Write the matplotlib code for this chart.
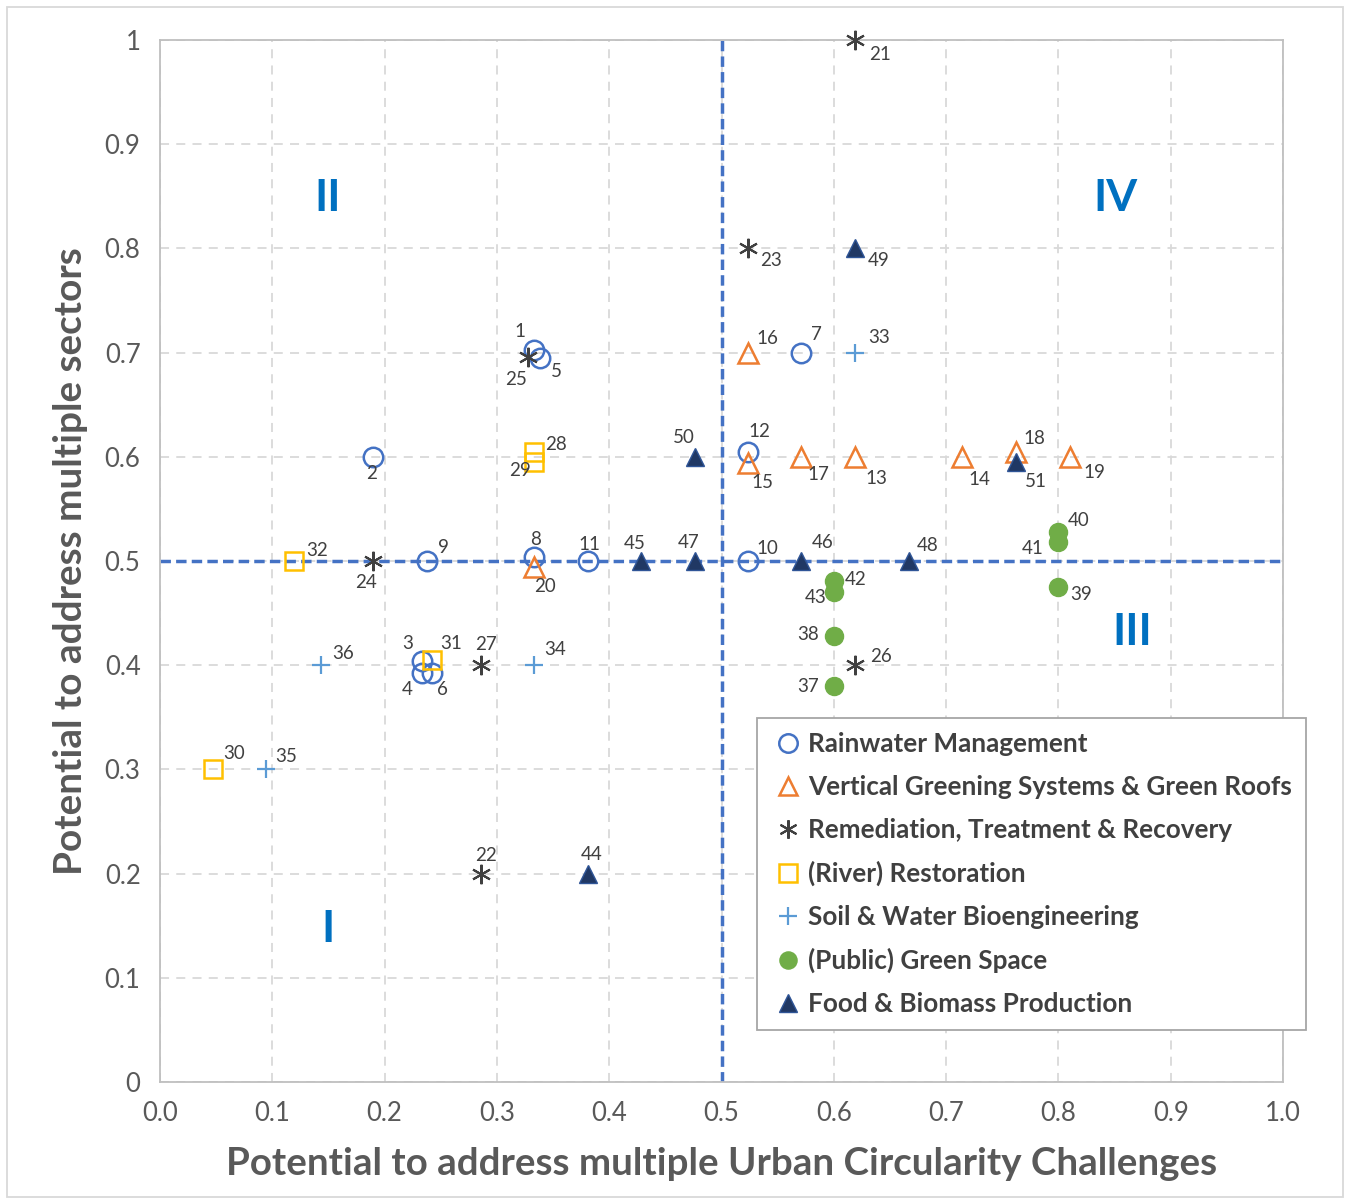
import matplotlib.pyplot as plt
from matplotlib.patches import Rectangle

plt.rcParams['font.family'] = ['Lato', 'DejaVu Sans']

# Data: id, x (urban circularity challenges), y (sectors)
rain_ids = [1, 2, 3, 4, 5, 6, 7, 8, 9, 10, 11, 12]
rain_x = [0.333, 0.190, 0.233, 0.233, 0.338, 0.242, 0.571, 0.333, 0.238, 0.524, 0.381, 0.524]
rain_y = [0.703, 0.600, 0.404, 0.393, 0.695, 0.393, 0.700, 0.504, 0.500, 0.500, 0.500, 0.605]

green_roof_ids = [13, 14, 15, 16, 17, 18, 19, 20]
green_roof_x = [0.619, 0.714, 0.524, 0.524, 0.571, 0.762, 0.810, 0.333]
green_roof_y = [0.600, 0.600, 0.594, 0.700, 0.600, 0.605, 0.600, 0.494]

remed_ids = [21, 22, 23, 24, 25, 26, 27]
remed_x = [0.619, 0.286, 0.524, 0.190, 0.328, 0.619, 0.286]
remed_y = [1.000, 0.200, 0.800, 0.500, 0.696, 0.400, 0.400]

river_ids = [28, 29, 30, 31, 32]
river_x = [0.333, 0.333, 0.047, 0.242, 0.119]
river_y = [0.605, 0.595, 0.300, 0.405, 0.500]

soil_ids = [33, 34, 35, 36]
soil_x = [0.619, 0.333, 0.094, 0.143]
soil_y = [0.700, 0.400, 0.300, 0.400]

public_ids = [37, 38, 39, 40, 41, 42, 43]
public_x = [0.600, 0.600, 0.800, 0.800, 0.800, 0.600, 0.600]
public_y = [0.380, 0.428, 0.475, 0.528, 0.518, 0.481, 0.470]

food_ids = [44, 45, 46, 47, 48, 49, 50, 51]
food_x = [0.381, 0.428, 0.571, 0.476, 0.667, 0.619, 0.476, 0.762]
food_y = [0.200, 0.500, 0.500, 0.500, 0.500, 0.800, 0.600, 0.595]

# label offsets in pixels (dx right, dy down)
label_off = {
    1: (-14, -18), 2: (-2, 17), 3: (-14, -18), 4: (-14, 17), 5: (17, 14), 6: (11, 17),
    7: (15, -18), 8: (2, -17), 9: (16, -14), 10: (19, -13), 11: (2, -17), 12: (11, -20),
    13: (21, 22), 14: (18, 23), 15: (14, 19), 16: (19, -14), 17: (17, 18), 18: (19, -13),
    19: (25, 16), 20: (11, 19), 21: (25, 14), 22: (5, -18), 23: (23, 12), 24: (-7, 21),
    25: (-12, 23), 26: (26, -9), 27: (5, -21), 28: (22, -7), 29: (-14, 8), 30: (21, -16),
    31: (19, -17), 32: (23, -11), 33: (24, -15), 34: (21, -16), 35: (21, -13), 36: (22, -12),
    37: (-26, 0), 38: (-26, -2), 39: (23, 7), 40: (20, -11), 41: (-26, 6), 42: (22, -1),
    43: (-18, 5), 44: (4, -19), 45: (-6, -18), 46: (21, -19), 47: (-6, -19), 48: (19, -16),
    49: (23, 12), 50: (-11, -19), 51: (20, 19),
}

series = [
    ('Rainwater Management', rain_ids, rain_x, rain_y,
     dict(marker='o', ms=14, mfc='none', mec='#4472C4', mew=1.8)),
    ('Vertical Greening Systems & Green Roofs', green_roof_ids, green_roof_x, green_roof_y,
     dict(marker='^', ms=14, mfc='none', mec='#ED7D31', mew=1.8)),
    ('Remediation, Treatment & Recovery', remed_ids, remed_x, remed_y,
     dict(marker=(6, 2, 0), ms=14, mfc='none', mec='#404040', mew=1.5)),
    ('(River) Restoration', river_ids, river_x, river_y,
     dict(marker='s', ms=13, mfc='none', mec='#FFC000', mew=1.8)),
    ('Soil & Water Bioengineering', soil_ids, soil_x, soil_y,
     dict(marker='+', ms=13, mfc='none', mec='#5B9BD5', mew=1.6)),
    ('(Public) Green Space', public_ids, public_x, public_y,
     dict(marker='o', ms=13, mfc='#70AD47', mec='#70AD47', mew=1)),
    ('Food & Biomass Production', food_ids, food_x, food_y,
     dict(marker='^', ms=13, mfc='#203864', mec='#2F5597', mew=1)),
]

fig = plt.figure(figsize=(13.48, 12.02), dpi=100)
ax = fig.add_axes([0.1187, 0.0998, 0.8331, 0.8669])

ax.axvline(0.5, color='#4472C4', ls=(0, (3, 1.5)), lw=2.5, zorder=2)
ax.axhline(0.5, color='#4472C4', ls=(0, (3, 1.5)), lw=2.5, zorder=2)

for name, ids, xs, ys, st in series:
    ax.plot(xs, ys, ls='none', label=name, zorder=3, clip_on=False, **st)
    for i, x, y in zip(ids, xs, ys):
        dx, dy = label_off[i]
        ax.annotate(str(i), (x, y), xytext=(dx * 0.72, -dy * 0.72), textcoords='offset points',
                    ha='center', va='center', fontsize=13.5, color='#404040', zorder=4)

# quadrant numerals
for txt, qx, qy in [('II', 0.149, 0.848), ('IV', 0.851, 0.848), ('III', 0.866, 0.432), ('I', 0.15, 0.147)]:
    ax.text(qx, qy, txt, ha='center', va='center', fontsize=32, fontweight='bold', color='#0070C0')

ax.set_xlim(0, 1)
ax.set_ylim(0, 1)
ax.set_xticks([i / 10 for i in range(11)])
ax.set_xticklabels([f'{i / 10:.1f}' for i in range(11)])
ax.set_yticks([i / 10 for i in range(11)])
ax.set_yticklabels(['0'] + [f'{i / 10:.1f}' for i in range(1, 10)] + ['1'])
ax.tick_params(length=0, labelsize=18.5, labelcolor='#595959', pad=14)
ax.grid(True, color='#D9D9D9', ls=(0, (5, 4)), lw=1.3)
ax.set_axisbelow(True)
for sp in ax.spines.values():
    sp.set_color('#BFBFBF')
    sp.set_linewidth(1.3)

ax.set_xlabel('Potential to address multiple Urban Circularity Challenges', fontsize=27.7,
              fontweight='bold', color='#595959', labelpad=15)
ax.set_ylabel('Potential to address multiple sectors', fontsize=27.9,
              fontweight='bold', color='#595959', labelpad=12)

leg = ax.legend(loc='upper left', bbox_to_anchor=(0.5616, 0.4027), bbox_transform=fig.transFigure,
                borderaxespad=0, fancybox=False, edgecolor='#A6A6A6', framealpha=1,
                prop=dict(size=18.8, weight='bold'), labelcolor='#404040',
                handletextpad=0.1, handlelength=1.3, labelspacing=0.72, borderpad=0.55, markerscale=0.95)
leg.get_frame().set_linewidth(1.3)
leg.set_zorder(5)

fig.patches.append(Rectangle((7 / 1348, 1 - 1197 / 1202), 1336 / 1348, 1190 / 1202,
                             transform=fig.transFigure, fill=False, edgecolor='#D9D9D9', lw=1.3))

fig.savefig('out.png', dpi=100)
